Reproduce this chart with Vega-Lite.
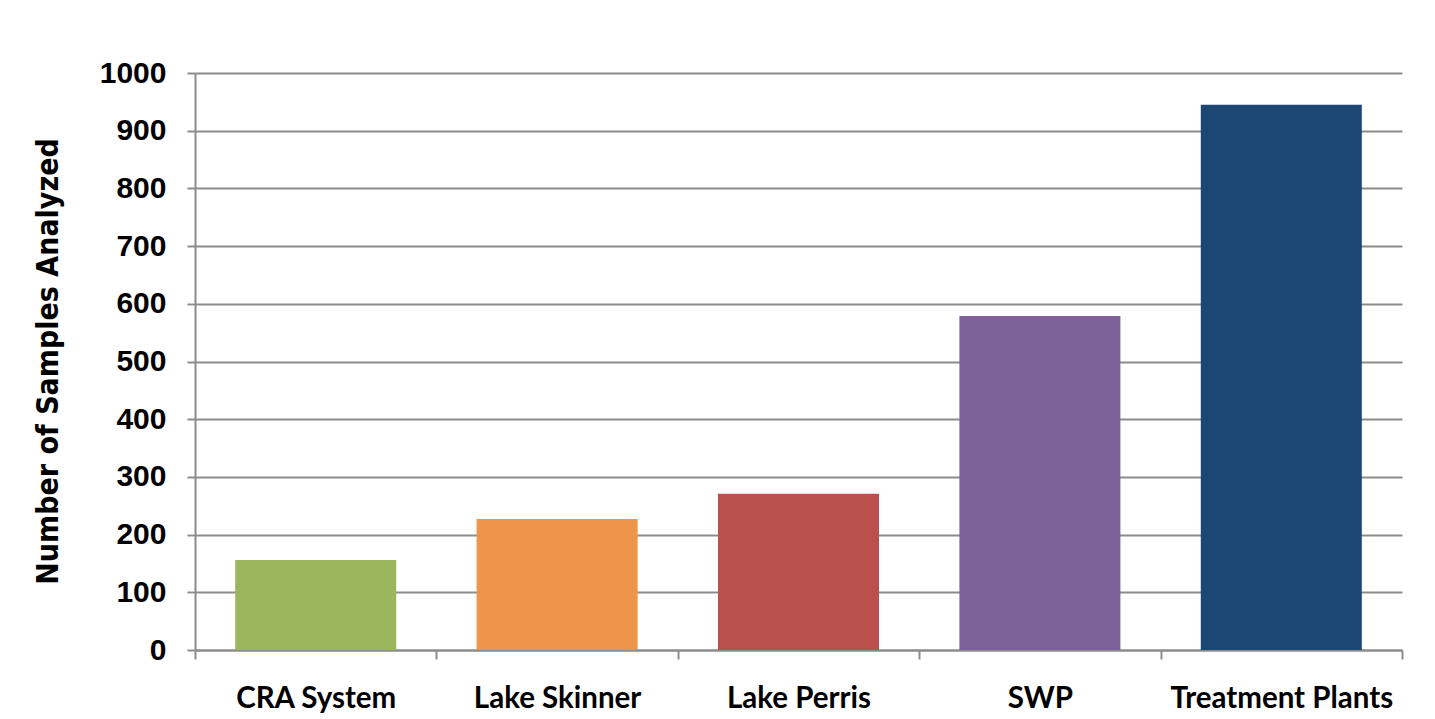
{
  "$schema": "https://vega.github.io/schema/vega-lite/v6.json",
  "width": 1207,
  "height": 577,
  "autosize": {"type": "none"},
  "padding": {"left": 195, "top": 73, "right": 33, "bottom": 69},
  "background": "white",
  "config": {"view": {"stroke": null}},
  "data": {
    "values": [
      {"site": "CRA System", "samples": 156},
      {"site": "Lake Skinner", "samples": 227},
      {"site": "Lake Perris", "samples": 271},
      {"site": "SWP", "samples": 579},
      {"site": "Treatment Plants", "samples": 945}
    ]
  },
  "mark": {"type": "bar", "width": {"band": 0.667}},
  "encoding": {
    "x": {
      "field": "site",
      "type": "nominal",
      "sort": null,
      "scale": {"paddingInner": 0, "paddingOuter": 0},
      "axis": {
        "title": null,
        "labelAngle": 0,
        "labelFont": "Lato",
        "labelFontWeight": "bold",
        "labelFontSize": 29.5,
        "labelLimit": 0,
        "labelColor": "#000000",
        "labelPadding": 25,
        "tickBand": "extent",
        "ticks": true,
        "tickSize": 9,
        "tickColor": "#8c8c8c",
        "tickWidth": 2,
        "domainColor": "#8c8c8c",
        "domainWidth": 2,
        "grid": false
      }
    },
    "y": {
      "field": "samples",
      "type": "quantitative",
      "scale": {"domain": [0, 1000]},
      "axis": {
        "title": "Number of Samples Analyzed",
        "titleFont": "DejaVu Sans Condensed",
        "titleFontSize": 30,
        "titleFontWeight": "bold",
        "titleColor": "#000000",
        "titleAngle": -90,
        "titleX": -147,
        "titleY": 288,
        "titleAlign": "center",
        "titleBaseline": "middle",
        "values": [0, 100, 200, 300, 400, 500, 600, 700, 800, 900, 1000],
        "format": "d",
        "labelFont": "Liberation Sans",
        "labelFontWeight": "bold",
        "labelFontSize": 30,
        "labelColor": "#000000",
        "labelPadding": 21,
        "tickSize": 8,
        "tickColor": "#8c8c8c",
        "tickWidth": 2,
        "domainColor": "#8c8c8c",
        "domainWidth": 2,
        "grid": true,
        "gridColor": "#8c8c8c",
        "gridWidth": 2
      }
    },
    "color": {
      "field": "site",
      "type": "nominal",
      "sort": null,
      "scale": {
        "domain": ["CRA System", "Lake Skinner", "Lake Perris", "SWP", "Treatment Plants"],
        "range": ["#9BB65C", "#EE9549", "#B9504E", "#7C6299", "#1C4674"]
      },
      "legend": null
    }
  }
}
